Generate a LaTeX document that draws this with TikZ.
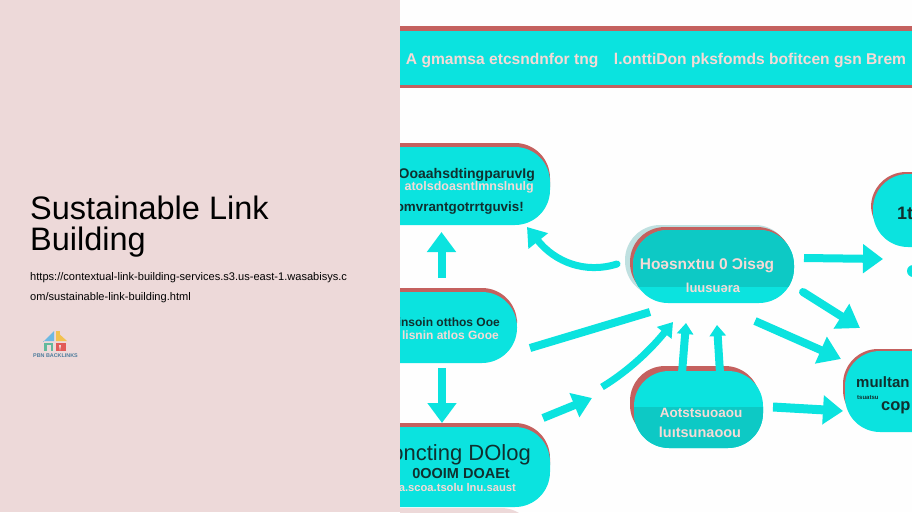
\documentclass[tikz,border=0pt]{standalone}
\usepackage{fontspec}
\setmainfont{Liberation Sans}
\usetikzlibrary{arrows.meta}
\definecolor{panelpink}{HTML}{EDD9D9}
\definecolor{pagewhite}{HTML}{FEFEFE}
\definecolor{aqua}{HTML}{0BE3DF}
\definecolor{deepaqua}{HTML}{0DC9C5}
\definecolor{rimred}{HTML}{C4615F}
\definecolor{rimhaze}{HTML}{BFE0E0}
\definecolor{palelabel}{HTML}{F6DAD6}
\definecolor{inklabel}{HTML}{10302F}
\definecolor{logoblue}{HTML}{6DB9E2}
\definecolor{logoyellow}{HTML}{F2C250}
\definecolor{logogreen}{HTML}{62B99C}
\definecolor{logored}{HTML}{E25B57}
\definecolor{logotext}{HTML}{4D7C9C}
\tikzset{
  x=1pt,y=-1pt,
  pillbase/.style={inner sep=0pt,outer sep=0pt,anchor=north west,rounded corners=35pt},
  flow/.style={draw=aqua,line width=8pt,line cap=butt},
  flowhead/.style={flow,-{Triangle[width=28pt,length=20pt]}},
  smallhead/.style={flow,-{Triangle[width=16pt,length=11pt]}},
  darklabel/.style={text=inklabel,font=\bfseries\fontsize{13}{15}\selectfont,inner sep=0pt},
  lightlabel/.style={text=palelabel,font=\bfseries\fontsize{12}{14}\selectfont,inner sep=0pt},
}
% Rounded box given by left, top, right, bottom edges
\newcommand{\pillbox}[6]{%
  \node[pillbase,fill=#6,minimum width=#4-#2,minimum height=#5-#3] (#1) at (#2,#3) {};}
\begin{document}
\begin{tikzpicture}
\useasboundingbox (0,0) rectangle (912,512);
\fill[pagewhite] (0,0) rectangle (912,512);
\fill[panelpink] (0,0) rectangle (400,512);

% Title, address and logo on the left panel
\node[anchor=base west,inner sep=0pt,font=\fontsize{32.5}{32}\selectfont] (title1) at (30,219.5) {Sustainable Link};
\node[anchor=base west,inner sep=0pt,font=\fontsize{32.5}{32}\selectfont] (title2) at (30,250) {Building};
\node[anchor=base west,inner sep=0pt,font=\fontsize{11.07}{11}\selectfont] (url1) at (30,280) {https://contextual-link-building-services.s3.us-east-1.wasabisys.c};
\node[anchor=base west,inner sep=0pt,font=\fontsize{11.07}{11}\selectfont] (url2) at (30,300) {om/sustainable-link-building.html};

\fill[logoblue] (43,342) -- (54,331) -- (54,341) -- (43,341) -- cycle;
\fill[logoyellow] (56,331) -- (67,341) -- (56,341) -- cycle;
\fill[logoyellow] (56,331) rectangle (60,341);
\fill[logogreen] (44,343) rectangle (53,351);
\fill[logored] (56,343) rectangle (66,351);
\fill[panelpink] (47,345) rectangle (51,351);
\fill[panelpink] (59,345) -- (61,345) -- (60,351) -- cycle;
\node[anchor=center,inner sep=0pt,text=logotext,font=\bfseries\fontsize{5.4}{6}\selectfont] (logotext) at (55.5,355.5) {PBN BACKLINKS};

% Diagram panel, cut off at the panel edges
\begin{scope}
\clip (400,0) rectangle (912,512);

% Header band
\fill[rimred] (380,26) rectangle (930,88);
\fill[aqua] (380,30.5) rectangle (930,85);
\node[lightlabel,anchor=center,font=\bfseries\fontsize{15.6}{17}\selectfont] (header) at (656,60) {A gmamsa etcsndnfor tng\quad l.onttiDon  pksfomds  bofitcen gsn  Brem};

% Rims behind the boxes
\pillbox{rimA}{340}{143}{550}{222}{rimred}
\pillbox{rimB}{340}{288}{517}{355}{rimred}
\pillbox{rimC}{340}{423}{550}{500}{rimred}
\pillbox{rimFoot}{340}{508}{536}{560}{panelpink}
\pillbox{hazeM}{625}{225}{790}{296}{rimhaze}
\pillbox{rimM}{630}{227}{792}{298}{rimred}
\pillbox{rimL}{630}{366}{760}{440}{rimred}
\pillbox{rimT}{871}{172}{980}{240}{rimred}
\pillbox{rimR}{843}{349}{980}{425}{rimred}

% Boxes
\pillbox{boxA}{340}{147}{550}{225}{aqua}
\pillbox{boxB}{340}{292}{517}{363}{aqua}
\pillbox{boxC}{340}{427}{550}{507}{aqua}
\pillbox{boxM}{633}{230}{794}{303}{aqua}
\pillbox{boxL}{634}{371}{763}{448}{aqua}
\pillbox{boxT}{873}{174}{980}{247}{aqua}
\node[pillbase,rounded corners=6pt,fill=aqua,minimum width=30pt,minimum height=12pt] (dotR) at (907,265) {};

% Darker shading inside the middle and lower boxes
\begin{scope}
\clip (633,230) [rounded corners=35pt] -- (794,230) -- (794,303) -- (633,303) -- cycle;
\fill[deepaqua] (625,225) rectangle (800,287);
\end{scope}
\begin{scope}
\clip (634,371) [rounded corners=35pt] -- (763,371) -- (763,448) -- (634,448) -- cycle;
\fill[deepaqua] (625,407) rectangle (770,450);
\end{scope}
\pillbox{boxR}{845}{351}{980}{432}{aqua}

% Box labels
\node[darklabel,anchor=east,font=\bfseries\fontsize{14}{15}\selectfont] (labA1) at (535,175) {OoaahsdtingparuvIg};
\node[lightlabel,anchor=east,font=\bfseries\fontsize{12.5}{13}\selectfont] (labA2) at (534,187) {atolsdoasntlmnslnulg};
\node[darklabel,anchor=east,font=\bfseries\fontsize{13.4}{14}\selectfont] (labA3) at (524,208) {nomvrantgotrrtguvis!};
\node[darklabel,anchor=east,font=\bfseries\fontsize{12}{13}\selectfont] (labB1) at (500,322) {linsoin otthos Ooe};
\node[lightlabel,anchor=east,font=\bfseries\fontsize{12}{13}\selectfont] (labB2) at (499,335) {lisnin atlos Gooe};
\node[anchor=east,inner sep=0pt,text=inklabel,font=\fontsize{22}{24}\selectfont] (labC1) at (531,455) {oncting DOlog};
\node[darklabel,anchor=east,font=\bfseries\fontsize{14.5}{15}\selectfont] (labC2) at (510,473) {0OOIM DOAEt};
\node[lightlabel,anchor=east,font=\bfseries\fontsize{11.2}{12}\selectfont] (labC3) at (516,487) {a.scoa.tsolu lnu.saust};
\node[lightlabel,anchor=center,font=\bfseries\fontsize{15.5}{17}\selectfont] (labM1) at (707,266) {Hoəsnxtıu 0 Ɔisəg};
\node[lightlabel,anchor=center,font=\bfseries\fontsize{13}{15}\selectfont] (labM2) at (713,288) {luusuəra};
\node[lightlabel,anchor=center,font=\bfseries\fontsize{13.5}{15}\selectfont] (labL1) at (701,413) {Aotstsuoaou};
\node[lightlabel,anchor=center,font=\bfseries\fontsize{14.5}{16}\selectfont] (labL2) at (700,432) {luıtsunaoou};
\node[anchor=west,inner sep=0pt,text=inklabel,font=\bfseries\fontsize{18}{20}\selectfont] (labT) at (897,213) {1t};
\node[darklabel,anchor=west,font=\bfseries\fontsize{15}{16}\selectfont] (labR1) at (856,382) {muıltan};
\node[darklabel,anchor=west,font=\bfseries\fontsize{6}{7}\selectfont] (labR3) at (857,398) {tsuatsu};
\node[darklabel,anchor=west,font=\bfseries\fontsize{16.5}{18}\selectfont] (labR2) at (881,408) {cop};

% Free ends of the arrows
\coordinate (upTail) at (441.5,278);   \coordinate (upTip) at (441.5,232);
\coordinate (curveTail) at (617,264);  \coordinate (curveTip) at (527,227);
\coordinate (longTail) at (530,348);   \coordinate (longEnd) at (650,312);
\coordinate (downTail) at (442,368);   \coordinate (downTip) at (442,423);
\coordinate (diagTail) at (543,418);   \coordinate (diagTip) at (592,398);
\coordinate (bendTail) at (602,387);   \coordinate (bendTip) at (673,322);
\coordinate (riseATail) at (682,373);  \coordinate (riseATip) at (686,323);
\coordinate (riseBTail) at (720,373);  \coordinate (riseBTip) at (717,325);
\coordinate (rightTail) at (804,258);  \coordinate (rightTip) at (883,259);
\coordinate (fallTail) at (803,292);   \coordinate (fallTip) at (860,328);
\coordinate (slopeTail) at (755,321);  \coordinate (slopeTip) at (841,359);
\coordinate (lowTail) at (773,407);    \coordinate (lowTip) at (843,411);

% Arrows
\draw[flowhead] (upTail) -- (upTip);
\draw[flowhead,line width=7pt,line cap=round,-{Triangle[width=24pt,length=18pt]}] (curveTail) .. controls (585,274) and (555,262) .. (curveTip);
\draw[flow] (longTail) -- (longEnd);
\draw[flowhead] (downTail) -- (downTip);
\draw[flowhead,-{Triangle[width=25pt,length=19pt]}] (diagTail) -- (diagTip);
\draw[smallhead,line width=7pt,-{Triangle[width=18pt,length=14pt]}] (bendTail) .. controls (630,370) and (652,348) .. (bendTip);
\draw[smallhead] (riseATail) -- (riseATip);
\draw[smallhead] (riseBTail) -- (riseBTip);
\draw[flowhead] (rightTail) -- (rightTip);
\draw[flowhead,line cap=round,-{Triangle[width=28pt,length=22pt]}] (fallTail) -- (fallTip);
\draw[flowhead,-{Triangle[width=28pt,length=22pt]}] (slopeTail) -- (slopeTip);
\draw[flowhead,line width=9pt] (lowTail) -- (lowTip);
\end{scope}
\end{tikzpicture}
\end{document}
